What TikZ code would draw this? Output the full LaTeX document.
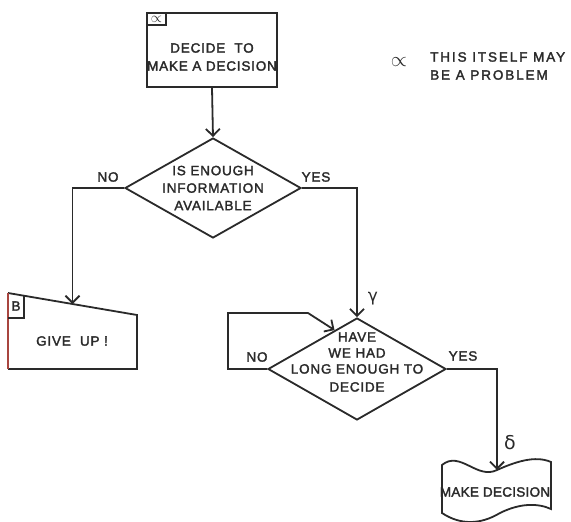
\documentclass[tikz,border=0pt]{standalone}
\usepackage{fontspec}
\setmainfont{Liberation Sans}[LetterSpace=6, FakeBold=2]
\newfontfamily\symfont{DejaVu Sans}
\newfontfamily\tightfont{Liberation Sans}[LetterSpace=2, FakeBold=2]
\usetikzlibrary{shapes.geometric,arrows.meta,calc}
\definecolor{ink}{HTML}{2A2A2A}
\definecolor{rust}{HTML}{A8453F}
\begin{document}
\begin{tikzpicture}[x=1pt,y=-1pt,
  every node/.style={text=ink, font=\fontsize{13.5}{16}\selectfont},
  line/.style={draw=ink, line width=1.8pt},
  arr/.style={line, -{Straight Barb[length=7pt,width=14pt]}},
  procbox/.style={line, rectangle, inner sep=0pt},
  decision/.style={line, diamond, inner sep=0pt},
  lbl/.style={inner sep=0pt, align=center},
]
\useasboundingbox (0,0) rectangle (571,522);
\fill[white] (0,0) rectangle (571,522);

% start box with its tag
\node[procbox, minimum width=130pt, minimum height=74pt] (start) at (212,50) {};
\node[lbl] (starttext) at (212,57) {DECIDE \ TO\\[2pt]MAKE A DECISION};
\node[procbox, minimum width=19pt, minimum height=12pt, anchor=north west] (starttag) at (start.north west) {\fontsize{15}{15}\selectfont$\propto$};

% footnote
\node[lbl] (notesym) at (399,62) {\fontsize{21}{21}\selectfont$\propto$};
\node[lbl, anchor=west, align=left, font=\addfontfeature{LetterSpace=14}\fontsize{13.5}{18}\selectfont] (note) at (430,66) {THIS ITSELF MAY\\BE A PROBLEM};

% first decision
\node[decision, minimum width=176pt, minimum height=100pt] (d1) at (213,188) {};
\node[lbl, font=\fontsize{13.5}{17.5}\selectfont] (d1text) at (d1.center) {IS ENOUGH\\INFORMATION\\AVAILABLE};

% give-up box
\coordinate (g1) at (8,293);
\coordinate (g2) at (137,315);
\coordinate (g3) at (137,369);
\coordinate (g4) at (8,369);
\coordinate (gtop) at ($(g1)!0.5!(g2)$);
\coordinate (gtag) at ($(g1)!0.124!(g2)$);
\coordinate (gtagc) at (8,318);
\draw[line] (g1) -- (g2) -- (g3) -- (g4);
\draw[line, draw=rust] (g4) -- (g1);
\draw[line] (gtag) |- (gtagc);
\node[lbl] (gtaglbl) at (16,306) {B};
\node[lbl] (giveup) at (72,341) {GIVE \ UP !};

% second decision
\node[decision, minimum width=178pt, minimum height=102pt] (d2) at (357,369) {};
\node[lbl, font=\fontsize{13.5}{16}\selectfont] (d2text) at (357,362) {HAVE\\WE HAD\\LONG ENOUGH TO\\[2pt]DECIDE};
\coordinate (loopa) at (228,313);
\coordinate (loopb) at (308,313);
\coordinate (loopend) at ($(d2.west)!0.75!(d2.north)$);

% document box
\coordinate (m1) at (442,465);
\coordinate (dtop) at (497,470);
\coordinate (m2) at (551,462);
\coordinate (m3) at (551,509);
\coordinate (m4) at (442,513);
\draw[line] (m1) .. controls (460,450) and (477,480) .. (dtop)
  .. controls (515,462) and (535,455) .. (m2) -- (m3)
  .. controls (538,503) and (520,503) .. (500,513)
  .. controls (480,525) and (460,525) .. (m4) -- cycle;
\node[lbl, font=\tightfont\fontsize{13.5}{16}\selectfont] (decide) at (495,492) {MAKE DECISION};

% connectors
\draw[arr] (start.south) -- (d1.north);
\draw[arr] (d1.west) -| (gtop);
\draw[arr] (d1.east) -| (d2.north);
\draw[arr] (d2.west) -- (d2.west -| loopa) -- (loopa) -- (loopb) -- (loopend);
\draw[arr] (d2.east) -| (dtop);

% branch labels
\node[lbl] (no1) at (108,177) {NO};
\node[lbl] (yes1) at (316,177) {YES};
\node[lbl] (no2) at (257,357) {NO};
\node[lbl] (yes2) at (463,356) {YES};
\node[lbl, font=\symfont\fontsize{17}{17}\selectfont] (gamma) at (373,299) {γ};
\node[lbl, font=\symfont\fontsize{19}{19}\selectfont] (delta) at (510,443) {δ};
\end{tikzpicture}
\end{document}
